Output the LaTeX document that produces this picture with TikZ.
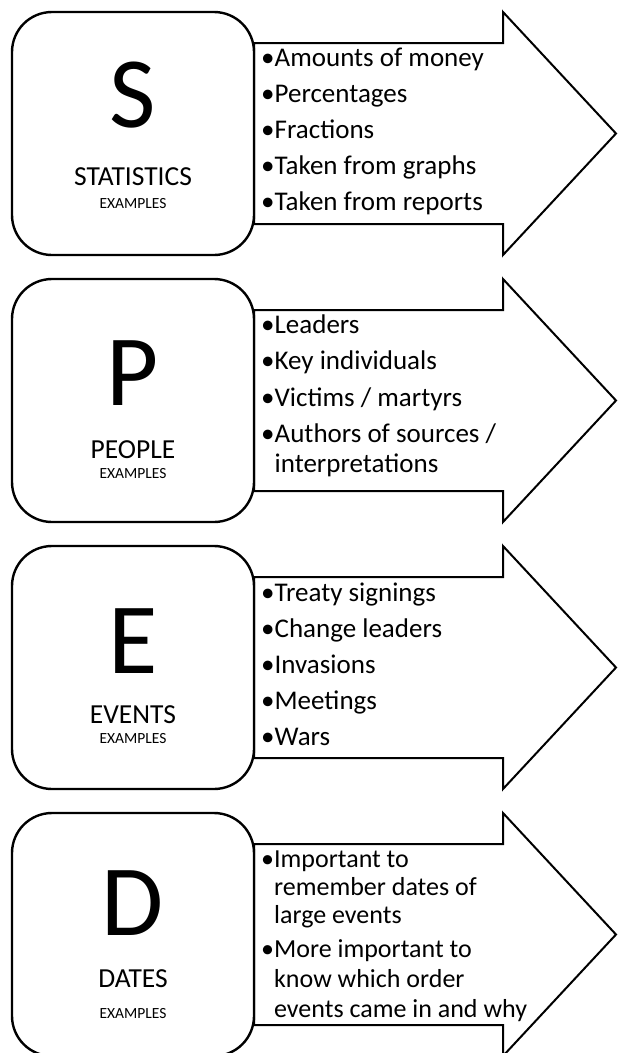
\documentclass[tikz,border=0pt]{standalone}
\usepackage{fontspec}
\setmainfont{Carlito}
\begin{document}
\begin{tikzpicture}[x=1pt,y=-1pt,
  card/.style={draw, line width=2.4pt, rounded corners=40pt, fill=white,
    minimum width=242pt, minimum height=243pt, inner sep=0pt},
  blockarrow/.style={draw, line width=2pt, line join=miter, fill=white},
  letter/.style={font=\fontsize{101}{101}\selectfont, anchor=base, inner sep=0pt},
  heading/.style={font=\fontsize{27.5}{27.5}\selectfont, anchor=base, inner sep=0pt,
    text depth=0pt},
  smallcap/.style={font=\fontsize{15.5}{15.5}\selectfont, anchor=base, inner sep=0pt,
    text height=10pt, text depth=0pt},
  item/.style={font=\fontsize{27}{27}\selectfont, anchor=base west, inner sep=0pt},
  itemd/.style={font=\fontsize{26}{26}\selectfont, anchor=base west, inner sep=0pt},
]
\useasboundingbox (0,0) rectangle (618,1053);

% block arrow behind a rounded card; #1 = top edge, #2 = name prefix
\newcommand\speprow[2]{%
  \draw[blockarrow] (254,#1+31) -- (503,#1+31) -- (503,#1) -- (616,#1+121.5)
    -- (503,#1+243) -- (503,#1+212) -- (254,#1+212) -- cycle;
  \node[card] (#2-card) at (133,#1+121.5) {};
}

% ---- S : statistics
\speprow{12}{s}
\node[letter]   (s-letter) at (133,12+115) {S};
\node[heading]  (s-title)  at (133,12+173) {STATISTICS};
\node[smallcap] (s-ex)     at (133,12+196) {EXAMPLES};
\foreach \txt [count=\i] in {Amounts of money, Percentages, Fractions,
    Taken from graphs, Taken from reports}
  \node[item] (s-item\i) at (261,{12+54+36*(\i-1)}) {•\txt};

% ---- P : people
\speprow{279}{p}
\node[letter]   (p-letter) at (133,279+126) {P};
\node[heading]  (p-title)  at (133,279+179) {PEOPLE};
\node[smallcap] (p-ex)     at (133,279+199) {EXAMPLES};
\node[item] (p-item1) at (261,279+54)  {•Leaders};
\node[item] (p-item2) at (261,279+90)  {•Key individuals};
\node[item] (p-item3) at (261,279+127) {•Victims / martyrs};
\node[item] (p-item4) at (261,279+163) {•Authors of sources /};
\node[item] (p-item5) at (261,279+193) {\hphantom{•}interpretations};

% ---- E : events
\speprow{546}{e}
\node[letter]   (e-letter) at (133,546+127) {E};
\node[heading]  (e-title)  at (133,546+177) {EVENTS};
\node[smallcap] (e-ex)     at (133,546+197) {EXAMPLES};
\foreach \txt [count=\i] in {Treaty signings, Change leaders, Invasions,
    Meetings, Wars}
  \node[item] (e-item\i) at (261,{546+55+36*(\i-1)}) {•\txt};

% ---- D : dates
\speprow{813}{d}
\node[letter]   (d-letter) at (133,813+122) {D};
\node[heading]  (d-title)  at (133,813+174) {DATES};
\node[smallcap] (d-ex)     at (133,813+205) {EXAMPLES};
\node[itemd] (d-item1) at (261,813+54)  {•Important to};
\node[itemd] (d-item2) at (261,813+82)  {\hphantom{•}remember dates of};
\node[itemd] (d-item3) at (261,813+110) {\hphantom{•}large events};
\node[itemd] (d-item4) at (261,813+144) {•More important to};
\node[itemd] (d-item5) at (261,813+174) {\hphantom{•}know which order};
\node[itemd] (d-item6) at (261,813+204) {\hphantom{•}events came in and why};
\end{tikzpicture}
\end{document}
